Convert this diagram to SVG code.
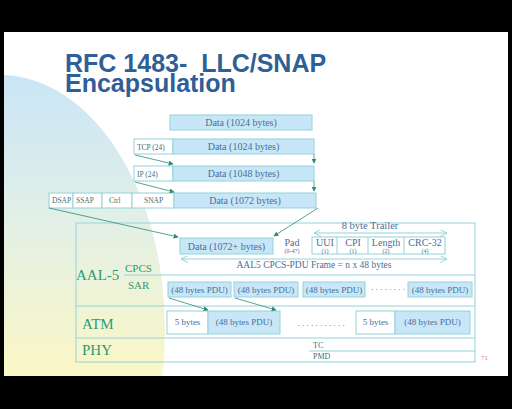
<svg xmlns="http://www.w3.org/2000/svg" width="512" height="409" viewBox="0 0 512 409">
<defs>
<linearGradient id="bgGrad" x1="0" y1="75" x2="0" y2="376" gradientUnits="userSpaceOnUse">
<stop offset="0" stop-color="#c9e5f6"/>
<stop offset="0.5" stop-color="#e3f0e6"/>
<stop offset="1" stop-color="#fbf7c6"/>
</linearGradient>
<clipPath id="slideClip"><rect x="4" y="32" width="504" height="344"/></clipPath>
<marker id="ah" viewBox="0 0 8 8" refX="7" refY="4" markerWidth="5" markerHeight="5" orient="auto" markerUnits="userSpaceOnUse">
<path d="M0,0 L8,4 L0,8 Z" fill="#2a8c7c"/>
</marker>
<marker id="open" viewBox="0 0 8 8" refX="8" refY="4" markerWidth="7" markerHeight="7" orient="auto-start-reverse" markerUnits="userSpaceOnUse">
<path d="M0,0 L8,4 L0,8" fill="none" stroke="#8fcfd6" stroke-width="1"/>
</marker>
</defs>
<style>
.box{stroke:#93d2da;stroke-width:1;fill:#ffffff}
.blue{stroke:#93d2da;stroke-width:1;fill:#c7e7f8}
.ln{stroke:#93d2da;stroke-width:1;fill:none}
.arr{stroke:#2a8c7c;stroke-width:0.8;fill:none}
.dt{font-family:"Liberation Serif",serif;font-size:10px;fill:#4b6e96;text-anchor:middle}
.sm{font-family:"Liberation Serif",serif;font-size:7.5px;fill:#40707c}
.pdu{font-family:"Liberation Serif",serif;font-size:9px;fill:#4b6e96;text-anchor:middle}
.tr{font-family:"Liberation Serif",serif;font-size:10px;fill:#4b6e96;text-anchor:middle}
.tn{font-family:"Liberation Serif",serif;font-size:6px;fill:#4b6e96;text-anchor:middle}
.lay{font-family:"Liberation Serif",serif;font-size:15px;fill:#2e9a74}
.sub{font-family:"Liberation Serif",serif;font-size:11px;fill:#2e9a74}
.title{font-family:"Liberation Sans",Arial,sans-serif;font-weight:bold;font-size:25px;fill:#2f5f96}
</style>
<rect x="0" y="0" width="512" height="409" fill="#000000"/>
<rect x="4" y="32" width="504" height="344" fill="#ffffff"/>
<ellipse cx="0" cy="330" rx="165" ry="255" fill="url(#bgGrad)" clip-path="url(#slideClip)"/>

<text class="title" xml:space="preserve"><tspan x="65" y="72">RFC 1483-  LLC/SNAP</tspan><tspan x="65" y="92">Encapsulation</tspan></text>

<g id="data-1024">
<rect class="blue" x="170" y="115" width="142" height="15"/>
<text class="dt" x="241" y="126">Data (1024 bytes)</text>
</g>
<g id="tcp-row">
<rect class="box" x="134" y="139" width="39" height="15"/>
<text class="sm" x="137" y="150">TCP (24)</text>
<rect class="blue" x="173" y="139" width="141" height="15"/>
<text class="dt" x="243.5" y="150">Data (1024 bytes)</text>
</g>
<g id="ip-row">
<rect class="box" x="134" y="166" width="39" height="15"/>
<text class="sm" x="137" y="177">IP (24)</text>
<rect class="blue" x="173" y="166" width="141" height="15"/>
<text class="dt" x="243.5" y="177">Data (1048 bytes)</text>
</g>
<g id="llc-row">
<rect class="box" x="49" y="193" width="24" height="15"/>
<text class="sm" x="52" y="203">DSAP</text>
<rect class="box" x="73" y="193" width="29" height="15"/>
<text class="sm" x="76" y="203">SSAP</text>
<rect class="box" x="102" y="193" width="30" height="15"/>
<text class="sm" x="109" y="203">Ctrl</text>
<rect class="box" x="132" y="193" width="42" height="15"/>
<text class="sm" x="144" y="203">SNAP</text>
<rect class="blue" x="174" y="193" width="142" height="15"/>
<text class="dt" x="245" y="204">Data (1072 bytes)</text>
</g>

<g id="layers">
<rect class="ln" x="76" y="223" width="399" height="139"/>
<line class="ln" x1="124" y1="275" x2="475" y2="275"/>
<line class="ln" x1="76" y1="306" x2="475" y2="306"/>
<line class="ln" x1="76" y1="338" x2="475" y2="338"/>
<line class="ln" x1="309" y1="351" x2="475" y2="351"/>
<text class="lay" x="76" y="280">AAL-5</text>
<text class="sub" x="125" y="272">CPCS</text>
<text class="sub" x="128" y="289">SAR</text>
<text class="lay" x="82" y="329">ATM</text>
<text class="lay" x="82" y="355">PHY</text>
<text class="sm" x="313" y="348" style="font-size:8px">TC</text>
<text class="sm" x="313" y="359" style="font-size:8px">PMD</text>
</g>

<g id="cpcs-frame">
<rect class="blue" x="180" y="238" width="93" height="16"/>
<text class="dt" x="226.5" y="249.5">Data (1072+  bytes)</text>
<text class="tr" x="292" y="246">Pad</text>
<text class="tn" x="292" y="253">(0-47)</text>
<rect class="box" x="312" y="237" width="133" height="17"/>
<line class="ln" x1="337" y1="237" x2="337" y2="254"/>
<line class="ln" x1="368" y1="237" x2="368" y2="254"/>
<line class="ln" x1="404" y1="237" x2="404" y2="254"/>
<text class="tr" x="325" y="246">UUI</text>
<text class="tn" x="325" y="253">(1)</text>
<text class="tr" x="353" y="246">CPI</text>
<text class="tn" x="353" y="253">(1)</text>
<text class="tr" x="386" y="246">Length</text>
<text class="tn" x="386" y="253">(2)</text>
<text class="tr" x="425" y="246">CRC-32</text>
<text class="tn" x="425" y="253">(4)</text>
<text class="tr" x="370" y="229" style="font-size:10.5px">8 byte Trailer</text>
<text class="tr" x="314" y="268" style="font-size:9.5px">AAL5 CPCS-PDU Frame = n x 48 bytes</text>
</g>

<g id="sar-pdus">
<rect class="blue" x="168" y="282" width="63" height="15"/>
<text class="pdu" x="199.5" y="292.5">(48 bytes PDU)</text>
<rect class="blue" x="234" y="282" width="64" height="15"/>
<text class="pdu" x="266" y="292.5">(48 bytes PDU)</text>
<rect class="blue" x="303" y="282" width="62" height="15"/>
<text class="pdu" x="334" y="292.5">(48 bytes PDU)</text>
<text class="pdu" x="388" y="290" xml:space="preserve">. . . . . . . .</text>
<rect class="blue" x="408" y="282" width="64" height="15"/>
<text class="pdu" x="440" y="292.5">(48 bytes PDU)</text>
</g>

<g id="atm-cells">
<rect class="box" x="167" y="311" width="41" height="23"/>
<text class="pdu" x="187.5" y="325">5 bytes</text>
<rect class="blue" x="208" y="311" width="72" height="23"/>
<text class="pdu" x="244" y="325">(48 bytes PDU)</text>
<text class="pdu" x="321" y="326" xml:space="preserve">. . . . . . . . . . .</text>
<rect class="box" x="356" y="311" width="39" height="23"/>
<text class="pdu" x="375.5" y="325">5 bytes</text>
<rect class="blue" x="395" y="311" width="75" height="23"/>
<text class="pdu" x="432.5" y="325">(48 bytes PDU)</text>
</g>

<text x="481" y="360" style="font-family:'Liberation Serif',serif;font-size:7px;fill:#e07a55">71</text>

<g id="connectors">
<line class="arr" x1="314" y1="154" x2="314" y2="163" marker-end="url(#ah)"/>
<line class="arr" x1="135" y1="155" x2="173" y2="164" marker-end="url(#ah)"/>
<line class="arr" x1="314" y1="181" x2="314" y2="191" marker-end="url(#ah)"/>
<line class="arr" x1="135" y1="182" x2="174" y2="192" marker-end="url(#ah)"/>
<line class="arr" x1="49" y1="208" x2="178" y2="237" marker-end="url(#ah)"/>
<line class="arr" x1="318" y1="208" x2="274" y2="236" marker-end="url(#ah)"/>
<line class="arr" x1="169" y1="298" x2="208" y2="310" marker-end="url(#ah)"/>
<line class="arr" x1="235" y1="298" x2="276" y2="310" marker-end="url(#ah)"/>
<line class="ln" x1="314" y1="233" x2="447" y2="233" marker-start="url(#open)" marker-end="url(#open)"/>
<line class="ln" x1="181" y1="259" x2="447" y2="259" marker-start="url(#open)" marker-end="url(#open)"/>
</g>
</svg>
